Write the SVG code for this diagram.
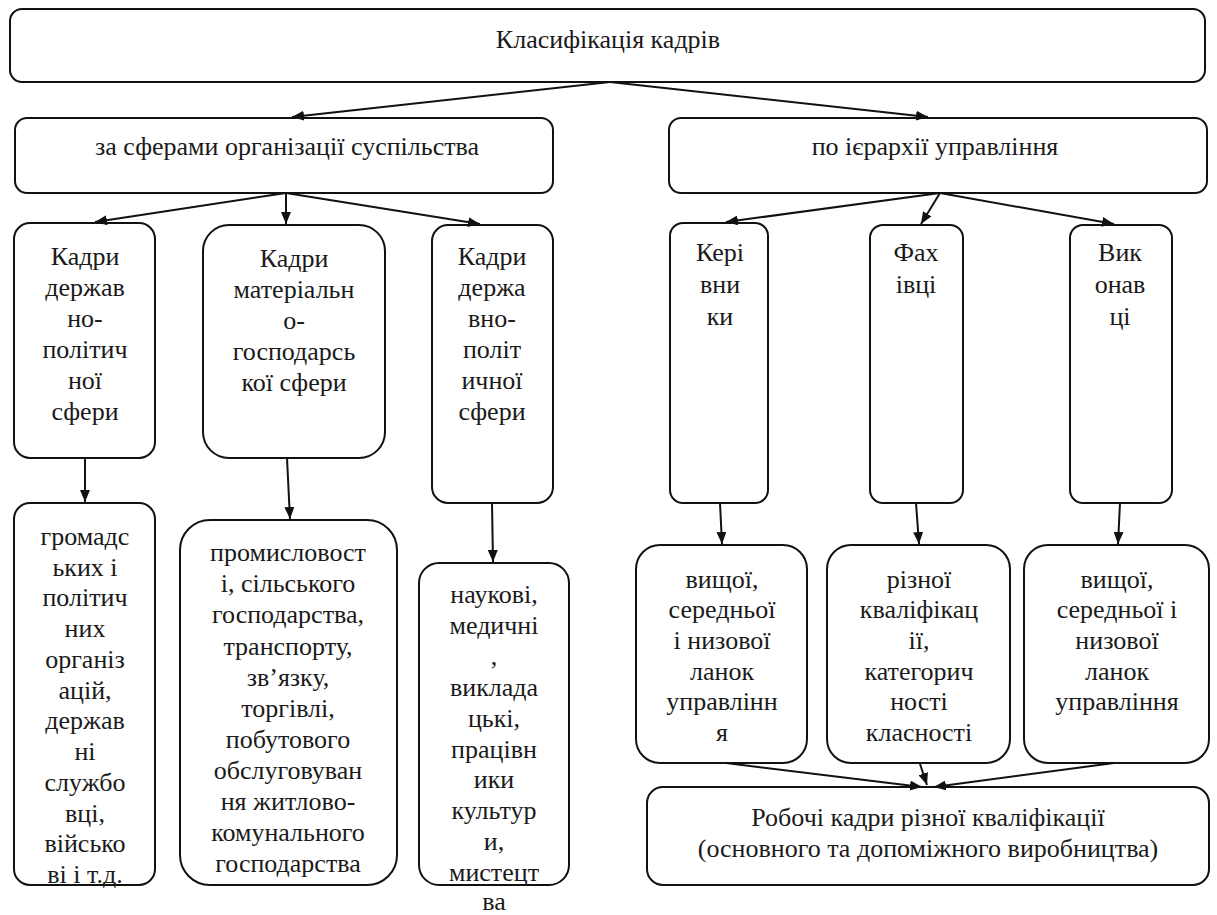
<svg xmlns="http://www.w3.org/2000/svg" width="1217" height="915" viewBox="0 0 1217 915">
<style>
.box{fill:#fff;stroke:#111;stroke-width:2}
.t{font-size:26px;fill:#1a1a1a;text-anchor:middle}
.c{stroke:#111;stroke-width:2;fill:none;marker-end:url(#ah)}
</style>
<defs>
<marker id="ah" markerUnits="userSpaceOnUse" markerWidth="12" markerHeight="10" refX="12" refY="5" orient="auto">
<path d="M0,0 L12,5 L0,10 z" fill="#111"/>
</marker>
</defs>
<rect width="1217" height="915" fill="#fff"/>

<g id="root"><rect class="box" x="10" y="9" width="1195" height="73" rx="12"/>
<text class="t" font-family="Liberation Serif" x="608" y="48">Класифікація кадрів</text></g>

<g id="cat-left"><rect class="box" x="15" y="118" width="538" height="75" rx="12"/>
<text class="t" font-family="Liberation Serif" x="287" y="155">за сферами організації суспільства</text></g>

<g id="cat-right"><rect class="box" x="669" y="118" width="538" height="75" rx="12"/>
<text class="t" font-family="Liberation Serif" x="935" y="155">по ієрархії управління</text></g>

<g id="A"><rect class="box" x="14" y="223" width="141" height="235" rx="16"/>
<text class="t" font-family="Liberation Serif"><tspan x="85" y="265">Кадри</tspan><tspan x="85" y="296">держав</tspan><tspan x="85" y="327">но-</tspan><tspan x="85" y="358">політич</tspan><tspan x="85" y="389">ної</tspan><tspan x="85" y="420">сфери</tspan></text></g>

<g id="B"><rect class="box" x="203" y="225" width="182" height="233" rx="26"/>
<text class="t" font-family="Liberation Serif"><tspan x="294" y="267">Кадри</tspan><tspan x="294" y="298">матеріальн</tspan><tspan x="294" y="329">о-</tspan><tspan x="294" y="360">господарсь</tspan><tspan x="294" y="391">кої сфери</tspan></text></g>

<g id="C"><rect class="box" x="432" y="225" width="121" height="278" rx="16"/>
<text class="t" font-family="Liberation Serif"><tspan x="492" y="265">Кадри</tspan><tspan x="492" y="296">держа</tspan><tspan x="492" y="327">вно-</tspan><tspan x="492" y="358">політ</tspan><tspan x="492" y="389">ичної</tspan><tspan x="492" y="420">сфери</tspan></text></g>

<g id="D"><rect class="box" x="670" y="223" width="98" height="280" rx="13"/>
<text class="t" font-family="Liberation Serif"><tspan x="720" y="261">Кері</tspan><tspan x="720" y="293">вни</tspan><tspan x="720" y="325">ки</tspan></text></g>

<g id="E"><rect class="box" x="870" y="225" width="93" height="278" rx="13"/>
<text class="t" font-family="Liberation Serif"><tspan x="916" y="261">Фах</tspan><tspan x="916" y="293">івці</tspan></text></g>

<g id="F"><rect class="box" x="1070" y="225" width="102" height="278" rx="13"/>
<text class="t" font-family="Liberation Serif"><tspan x="1120" y="261">Вик</tspan><tspan x="1120" y="293">онав</tspan><tspan x="1120" y="325">ці</tspan></text></g>

<g id="G"><rect class="box" x="14" y="503" width="141" height="382" rx="16"/>
<text class="t" font-family="Liberation Serif"><tspan x="85" y="545">громадс</tspan><tspan x="85" y="576">ьких і</tspan><tspan x="85" y="606">політич</tspan><tspan x="85" y="637">них</tspan><tspan x="85" y="668">організ</tspan><tspan x="85" y="699">ацій,</tspan><tspan x="85" y="729">держав</tspan><tspan x="85" y="760">ні</tspan><tspan x="85" y="791">службо</tspan><tspan x="85" y="822">вці,</tspan><tspan x="85" y="852">військо</tspan><tspan x="85" y="883">ві і т.д.</tspan></text></g>

<g id="H"><rect class="box" x="180" y="520" width="217" height="365" rx="30"/>
<text class="t" font-family="Liberation Serif"><tspan x="288" y="561">промисловост</tspan><tspan x="288" y="592">і, сільського</tspan><tspan x="288" y="623">господарства,</tspan><tspan x="288" y="655">транспорту,</tspan><tspan x="288" y="686">зв’язку,</tspan><tspan x="288" y="717">торгівлі,</tspan><tspan x="288" y="748">побутового</tspan><tspan x="288" y="779">обслуговуван</tspan><tspan x="288" y="810">ня житлово-</tspan><tspan x="288" y="841">комунального</tspan><tspan x="288" y="872">господарства</tspan></text></g>

<g id="I"><rect class="box" x="419" y="563" width="150" height="322" rx="20"/>
<text class="t" font-family="Liberation Serif"><tspan x="494" y="603">наукові,</tspan><tspan x="494" y="634">медичні</tspan><tspan x="494" y="665">,</tspan><tspan x="494" y="696">виклада</tspan><tspan x="494" y="727">цькі,</tspan><tspan x="494" y="758">працівн</tspan><tspan x="494" y="788">ики</tspan><tspan x="494" y="819">культур</tspan><tspan x="494" y="850">и,</tspan><tspan x="494" y="881">мистецт</tspan><tspan x="494" y="910">ва</tspan></text></g>

<g id="J"><rect class="box" x="636" y="545" width="171" height="218" rx="24"/>
<text class="t" font-family="Liberation Serif"><tspan x="722" y="588">вищої,</tspan><tspan x="722" y="618">середньої</tspan><tspan x="722" y="649">і низової</tspan><tspan x="722" y="680">ланок</tspan><tspan x="722" y="710">управлінн</tspan><tspan x="722" y="741">я</tspan></text></g>

<g id="K"><rect class="box" x="827" y="545" width="183" height="218" rx="24"/>
<text class="t" font-family="Liberation Serif"><tspan x="919" y="588">різної</tspan><tspan x="919" y="618">кваліфікац</tspan><tspan x="919" y="649">ії,</tspan><tspan x="919" y="680">категорич</tspan><tspan x="919" y="710">ності</tspan><tspan x="919" y="741">класності</tspan></text></g>

<g id="L"><rect class="box" x="1024" y="545" width="185" height="218" rx="24"/>
<text class="t" font-family="Liberation Serif"><tspan x="1117" y="588">вищої,</tspan><tspan x="1117" y="618">середньої і</tspan><tspan x="1117" y="649">низової</tspan><tspan x="1117" y="680">ланок</tspan><tspan x="1117" y="710">управління</tspan></text></g>

<g id="M"><rect class="box" x="647" y="787" width="562" height="98" rx="16"/>
<text class="t" font-family="Liberation Serif"><tspan x="928" y="826">Робочі кадри різної кваліфікації</tspan><tspan x="928" y="857">(основного та допоміжного виробництва)</tspan></text></g>

<g id="connectors">
<line class="c" x1="610" y1="82" x2="292" y2="117"/>
<line class="c" x1="610" y1="82" x2="928" y2="117"/>
<line class="c" x1="286" y1="193" x2="95" y2="222"/>
<line class="c" x1="286" y1="193" x2="286" y2="224"/>
<line class="c" x1="286" y1="193" x2="480" y2="224"/>
<line class="c" x1="940" y1="193" x2="726" y2="222"/>
<line class="c" x1="940" y1="193" x2="921" y2="224"/>
<line class="c" x1="940" y1="193" x2="1114" y2="224"/>
<line class="c" x1="85" y1="458" x2="85" y2="502"/>
<line class="c" x1="287" y1="458" x2="290" y2="519"/>
<line class="c" x1="492" y1="503" x2="493" y2="562"/>
<line class="c" x1="720" y1="503" x2="722" y2="544"/>
<line class="c" x1="916" y1="503" x2="919" y2="544"/>
<line class="c" x1="1120" y1="503" x2="1118" y2="544"/>
<line class="c" x1="726" y1="763" x2="922" y2="787"/>
<line class="c" x1="920" y1="764" x2="927" y2="785"/>
<line class="c" x1="1114" y1="763" x2="934" y2="787"/>
</g>
</svg>
